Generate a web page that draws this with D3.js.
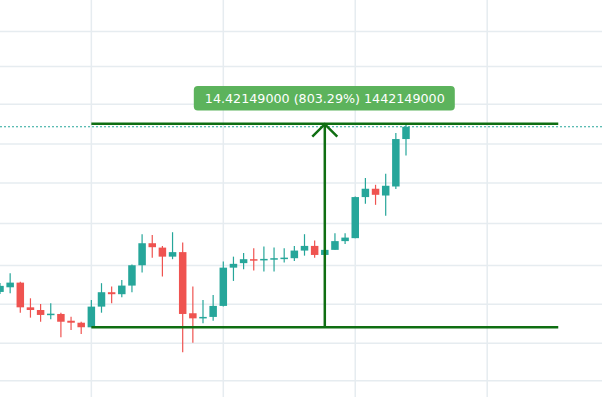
<!DOCTYPE html>
<html>
<head>
<meta charset="utf-8">
<script src="https://cdn.jsdelivr.net/npm/d3@7"></script>
<style>
  html, body { margin: 0; padding: 0; background: #fff; }
  #chart { width: 602px; height: 397px; }
</style>
</head>
<body>
<div id="chart"></div>
<script>
// candle data (one per bar, left to right)
const opens  = [4.30, 4.63, 4.96, 3.21, 3.02, 2.67, 2.74, 2.26, 2.12, 1.7953, 3.26, 4.28, 4.14, 4.75, 6.19, 7.75, 7.44, 6.80, 7.12, 2.79, 2.43, 2.53, 3.31, 6.02, 6.34, 6.62, 6.59, 6.64, 6.64, 6.69, 7.23, 7.56, 6.92, 7.28, 7.90, 8.11, 11.02, 11.61, 11.13, 11.77, 15.13];
const highs  = [4.94, 5.63, 5.03, 3.85, 3.45, 3.50, 2.83, 2.55, 2.19, 3.73, 4.92, 4.68, 5.15, 6.24, 8.39, 8.34, 7.56, 8.53, 7.80, 4.68, 3.73, 4.09, 6.45, 6.80, 7.05, 7.40, 7.51, 7.44, 7.40, 7.56, 8.39, 7.94, 7.40, 8.46, 8.46, 11.06, 12.37, 11.89, 12.67, 15.56, 16.22];
const lows   = [4.16, 4.21, 2.83, 2.48, 2.19, 2.36, 1.09, 1.60, 1.32, 1.7953, 2.83, 3.50, 3.92, 4.28, 5.67, 6.73, 5.39, 6.62, 0.02, 0.70, 2.08, 2.26, 3.26, 5.08, 5.91, 5.81, 5.74, 5.74, 6.38, 6.50, 6.87, 6.73, 6.92, 7.28, 7.70, 8.11, 10.54, 10.47, 9.69, 11.59, 13.97];
const closes = [4.73, 4.96, 3.21, 3.02, 2.67, 2.76, 2.19, 2.12, 1.80, 3.26, 4.28, 4.14, 4.75, 6.19, 7.75, 7.47, 6.80, 7.12, 2.74, 2.43, 2.53, 3.31, 6.02, 6.29, 6.62, 6.55, 6.64, 6.69, 6.73, 7.23, 7.56, 6.92, 7.28, 7.90, 8.15, 11.02, 11.61, 11.18, 11.82, 15.13, 16.00];

// grid lines (price levels and bar indexes)
const gridPrices = [22.74, 20.26, 17.59, 14.78, 12.01, 9.14, 6.17, 3.43, 0.66, -1.99];
const gridBars = [9, 22, 35, 48];

// price range drawing
const rangeBars = [9, 55];
const rangePrices = [1.7953, 16.2168];
const rangeLabel = "14.42149000 (803.29%) 1442149000";

const width = 602, height = 397;
const upColor = "#26a69a", downColor = "#ef5350";
const toolColor = "#0f6e12";

const candles = opens.map((o, i) => ({ i, o, h: highs[i], l: lows[i], c: closes[i] }));

const x = d3.scaleLinear().domain([0, 48]).range([0, 487.2]);
const y = d3.scaleLinear().domain(rangePrices).range([327.3, 123.7]);

const svg = d3.select("#chart").append("svg")
    .attr("width", width)
    .attr("height", height);

// grid
svg.append("g").selectAll("line").data(gridPrices).join("line")
    .attr("x1", 0).attr("x2", width)
    .attr("y1", d => y(d)).attr("y2", d => y(d))
    .attr("stroke", "#e6ecf0").attr("stroke-width", 1.5);

svg.append("g").selectAll("line").data(gridBars).join("line")
    .attr("y1", 0).attr("y2", height)
    .attr("x1", d => x(d)).attr("x2", d => x(d))
    .attr("stroke", "#e6ecf0").attr("stroke-width", 1.5);

// last price line
const last = candles[candles.length - 1];
svg.append("line")
    .attr("x1", 0).attr("x2", width)
    .attr("y1", y(last.c)).attr("y2", y(last.c))
    .attr("stroke", upColor).attr("stroke-width", 1)
    .attr("stroke-dasharray", "2,2");

// candles
const bodyW = 7.5;
const g = svg.append("g").selectAll("g").data(candles).join("g");

g.append("line")
    .attr("x1", d => x(d.i)).attr("x2", d => x(d.i))
    .attr("y1", d => y(d.h)).attr("y2", d => y(d.l))
    .attr("stroke", d => d.c >= d.o ? upColor : downColor)
    .attr("stroke-width", 1.2);

g.append("rect")
    .attr("x", d => x(d.i) - bodyW / 2)
    .attr("width", bodyW)
    .attr("y", d => y(Math.max(d.o, d.c)))
    .attr("height", d => Math.max(1.5, Math.abs(y(d.o) - y(d.c))))
    .attr("fill", d => d.c >= d.o ? upColor : downColor);

// price range tool
const tool = svg.append("g")
    .attr("stroke", toolColor).attr("stroke-width", 2.5).attr("fill", "none");

rangePrices.forEach(p => {
    tool.append("line")
        .attr("x1", x(rangeBars[0])).attr("x2", x(rangeBars[1]))
        .attr("y1", y(p)).attr("y2", y(p));
});

const midX = x((rangeBars[0] + rangeBars[1]) / 2);
tool.append("line")
    .attr("x1", midX).attr("x2", midX)
    .attr("y1", y(rangePrices[0])).attr("y2", y(rangePrices[1]));

tool.append("path")
    .attr("d", d3.line()([
        [midX - 12.5, y(rangePrices[1]) + 13],
        [midX, y(rangePrices[1]) + 0.5],
        [midX + 12.5, y(rangePrices[1]) + 13]
    ]));

// label
const label = svg.append("g");
const box = label.append("rect")
    .attr("fill", "#5cb35c")
    .attr("rx", 4).attr("ry", 4);

const txt = label.append("text")
    .attr("x", midX)
    .attr("y", 99)
    .attr("text-anchor", "middle")
    .attr("dominant-baseline", "middle")
    .attr("fill", "#fff")
    .style("font-family", "'DejaVu Sans', Verdana, sans-serif")
    .style("font-size", "12.7px")
    .text(rangeLabel);

const tw = txt.node().getComputedTextLength();
const boxW = Math.max(tw + 20, 261);
box.attr("x", midX - boxW / 2 - 0.5)
    .attr("y", 86)
    .attr("width", boxW)
    .attr("height", 24.5);
</script>
</body>
</html>
